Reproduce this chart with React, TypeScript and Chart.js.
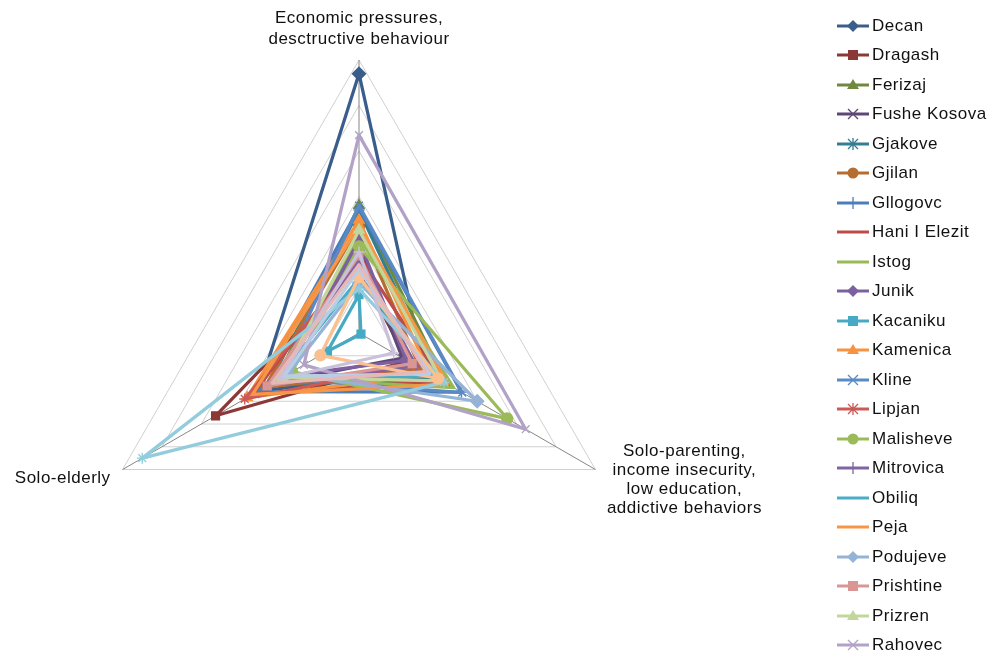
import React, { useEffect, useRef } from "react";
import { Chart, registerables } from "chart.js";

Chart.register(...registerables);

// Chart.js goes clockwise: top, bottom-right, bottom-left
const axisLabels: string[][] = [
  ["Economic pressures,", "desctructive behaviour"],
  ["Solo-parenting,", "income insecurity,", "low education,", "addictive behaviors"],
  ["Solo-elderly"],
];

const municipalities = [
  "Decan", "Dragash", "Ferizaj", "Fushe Kosova", "Gjakove", "Gjilan", "Gllogovc",
  "Hani I Elezit", "Istog", "Junik", "Kacaniku", "Kamenica", "Kline", "Lipjan",
  "Malisheve", "Mitrovica", "Obiliq", "Peja", "Podujeve", "Prishtine", "Prizren",
  "Rahovec", "Skenderaj", "Shtime", "Suhareke", "Viti", "Vushtrri",
];

const economicPressures = [
  57, 14.2, 28, 19, 27, 23.5, 27.5, 17, 21, 20.4, 8.4, 24.8, 28, 16,
  19, 16, 12, 23.5, 11, 17, 22.6, 43.5, 9.7, 12.3, 17.8, 14, 15,
];
const soloElderly = [
  25.5, 36.4, 21, 22, 23, 24, 25.8, 27, 20, 19, 8, 28.4, 20, 29,
  17, 23, 21, 27, 18, 23.3, 19.5, 14, 55, 9.8, 20, 19, 22,
];
const soloParenting = [
  16.7, 12.3, 22, 11, 20, 15.5, 26, 21, 24, 12, 0.5, 18, 26.2, 14,
  37.6, 14.5, 19, 22.5, 30, 13.5, 21, 42.3, 21.6, 20, 8.8, 18, 17,
];

const seriesColors = [
  "#395E8C", "#8C3836", "#71893F", "#5C4776", "#357D91", "#B66D31", "#4A7EBB",
  "#BE4B48", "#98B954", "#7D60A0", "#46AAC5", "#F69240", "#5A8AC6", "#CB5A57",
  "#9BBB59", "#8064A2", "#4BACC6", "#F79646", "#95B3D7", "#D99694", "#C3D69B",
  "#B3A2C7", "#93CDDD", "#FAC090", "#C9C0DC", "#B9CDE5", "#E6B9B8",
];
const seriesMarkers = [
  "rectRot", "rect", "triangle", "crossRot", "star", "circle", "cross",
  "none", "none", "rectRot", "rect", "triangle", "crossRot", "star",
  "circle", "cross", "none", "none", "rectRot", "rect", "triangle",
  "crossRot", "star", "circle", "cross", "none", "none",
];

const legendCount = 22;
const scaleMax = 60;
const scaleStep = 10;

const FONT = "'Liberation Sans', Arial, sans-serif";

const labelPlugin = {
  id: "axisLabelsPlugin",
  afterDraw(chart: any) {
    const scale = chart.scales.r;
    const ctx = chart.ctx as CanvasRenderingContext2D;
    ctx.save();
    ctx.font = "17px " + FONT;
    (ctx as any).letterSpacing = "0.5px";
    ctx.fillStyle = "#111";
    ctx.textBaseline = "middle";
    const p0 = scale.getPointPosition(0, scale.drawingArea);
    ctx.textAlign = "center";
    axisLabels[0].forEach((t, i) => ctx.fillText(t, p0.x, p0.y - 42 + i * 21));
    const p1 = scale.getPointPosition(1, scale.drawingArea);
    ctx.textAlign = "center";
    axisLabels[1].forEach((t, i) => ctx.fillText(t, p1.x + 89, p1.y - 18 + i * 19));
    const p2 = scale.getPointPosition(2, scale.drawingArea);
    ctx.textAlign = "right";
    axisLabels[2].forEach((t, i) => ctx.fillText(t, p2.x - 12, p2.y + 9 + i * 20));
    ctx.restore();
  },
};

function radiusFor(m: string) {
  if (m === "rect" || m === "circle") return 5.5;
  if (m === "rectRot") return 6.5;
  if (m === "triangle") return 6;
  return 5.5;
}

function LegendIcon({ color, marker }: { color: string; marker: string }) {
  const cx = 16, cy = 8;
  let mk: React.ReactNode = null;
  if (marker === "rectRot") mk = <polygon points={`${cx},${cy - 6} ${cx + 6},${cy} ${cx},${cy + 6} ${cx - 6},${cy}`} fill={color} />;
  else if (marker === "rect") mk = <rect x={cx - 5} y={cy - 5} width={10} height={10} fill={color} />;
  else if (marker === "triangle") mk = <polygon points={`${cx},${cy - 6} ${cx + 6},${cy + 4} ${cx - 6},${cy + 4}`} fill={color} />;
  else if (marker === "circle") mk = <circle cx={cx} cy={cy} r={5.5} fill={color} />;
  else if (marker === "crossRot")
    mk = <path d={`M${cx - 5} ${cy - 5}L${cx + 5} ${cy + 5}M${cx - 5} ${cy + 5}L${cx + 5} ${cy - 5}`} stroke={color} strokeWidth={1.3} />;
  else if (marker === "star")
    mk = <path d={`M${cx - 5} ${cy - 5}L${cx + 5} ${cy + 5}M${cx - 5} ${cy + 5}L${cx + 5} ${cy - 5}M${cx} ${cy - 6}L${cx} ${cy + 6}`} stroke={color} strokeWidth={1.3} />;
  else if (marker === "cross")
    mk = <path d={`M${cx} ${cy - 6}L${cx} ${cy + 6}`} stroke={color} strokeWidth={1.3} />;
  return (
    <svg width={32} height={16} style={{ display: "block" }}>
      <line x1={0} y1={cy} x2={32} y2={cy} stroke={color} strokeWidth={3} />
      {mk}
    </svg>
  );
}

export default function App() {
  const canvasRef = useRef<HTMLCanvasElement | null>(null);

  useEffect(() => {
    if (!canvasRef.current) return;
    const n = municipalities.length;
    const datasets = municipalities.map((name, i) => {
      const m = seriesMarkers[i];
      return {
        label: name,
        data: [economicPressures[i], soloParenting[i], soloElderly[i]],
        borderColor: seriesColors[i],
        backgroundColor: seriesColors[i],
        borderWidth: 3.25,
        fill: false,
        tension: 0,
        pointStyle: m === "none" ? "circle" : m,
        pointRadius: m === "none" ? 0 : radiusFor(m),
        pointBackgroundColor: seriesColors[i],
        pointBorderColor: seriesColors[i],
        pointBorderWidth: 1.4,
        order: n - i,
      };
    });
    const chart = new Chart(canvasRef.current, {
      type: "radar",
      data: { labels: axisLabels.map((l) => l.join(" ")), datasets: datasets as any },
      options: {
        responsive: false,
        animation: false,
        devicePixelRatio: 1,
        layout: { padding: { left: 86, right: 371, top: 60, bottom: 51 } },
        plugins: { legend: { display: false }, tooltip: { enabled: false } },
        elements: { line: { borderJoinStyle: "round" } },
        scales: {
          r: {
            min: 0,
            max: scaleMax,
            ticks: { display: false, stepSize: scaleStep },
            grid: { color: "#D0D0D0", lineWidth: 1, circular: false },
            angleLines: { color: "#868686", lineWidth: 1 },
            pointLabels: { display: false },
          },
        },
      },
      plugins: [labelPlugin],
    });
    return () => chart.destroy();
  }, []);

  return (
    <div style={{ position: "absolute", left: 0, top: 0, width: 1003, height: 657, background: "#fff" }}>
      <canvas ref={canvasRef} width={1003} height={657} style={{ position: "absolute", left: 0, top: 0, width: 1003, height: 657 }} />
      {municipalities.slice(0, legendCount).map((name, i) => (
        <div
          key={name}
          style={{
            position: "absolute",
            left: 837,
            top: 26 + i * 29.48 - 10,
            height: 20,
            display: "flex",
            alignItems: "center",
            fontFamily: FONT,
            fontSize: 17,
            letterSpacing: "0.5px",
            color: "#111",
            whiteSpace: "nowrap",
          }}
        >
          <LegendIcon color={seriesColors[i]} marker={seriesMarkers[i]} />
          <span style={{ marginLeft: 3 }}>{name}</span>
        </div>
      ))}
    </div>
  );
}
